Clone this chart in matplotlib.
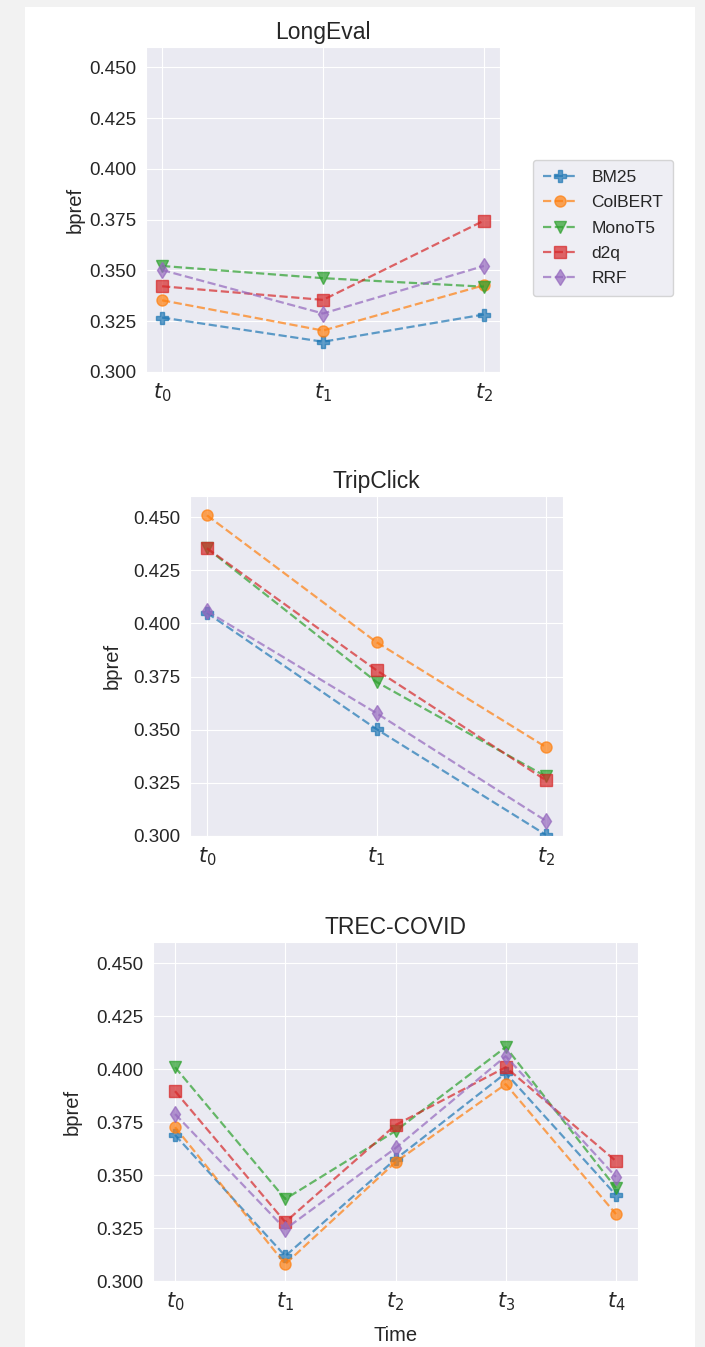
import matplotlib
matplotlib.use("Agg")
import matplotlib.pyplot as plt
import seaborn as sns
from matplotlib.patches import Rectangle

sns.set_style("darkgrid")
plt.rcParams['font.family'] = ['Liberation Sans', 'DejaVu Sans']

models = ["BM25", "ColBERT", "MonoT5", "d2q", "RRF"]
markers = ["P", "o", "v", "s", "d"]
colors = ["#1f77b4", "#ff7f0e", "#2ca02c", "#d62728", "#9467bd"]

longeval_labels = ["$t_0$", "$t_1$", "$t_2$"]
longeval = {
    "BM25":    [0.3268, 0.3149, 0.3283],
    "ColBERT": [0.3353, 0.3204, 0.3427],
    "MonoT5":  [0.3522, 0.3462, 0.3420],
    "d2q":     [0.3422, 0.3355, 0.3745],
    "RRF":     [0.3502, 0.3288, 0.3522],
}

tripclick_labels = ["$t_0$", "$t_1$", "$t_2$"]
tripclick = {
    "BM25":    [0.4050, 0.3503, 0.3005],
    "ColBERT": [0.4509, 0.3912, 0.3418],
    "MonoT5":  [0.4354, 0.3725, 0.3280],
    "d2q":     [0.4354, 0.3780, 0.3262],
    "RRF":     [0.4058, 0.3578, 0.3071],
}

covid_labels = ["$t_0$", "$t_1$", "$t_2$", "$t_3$", "$t_4$"]
covid = {
    "BM25":    [0.3689, 0.3118, 0.3575, 0.3981, 0.3406],
    "ColBERT": [0.3726, 0.3080, 0.3561, 0.3929, 0.3316],
    "MonoT5":  [0.4009, 0.3387, 0.3708, 0.4104, 0.3439],
    "d2q":     [0.3896, 0.3278, 0.3736, 0.4009, 0.3566],
    "RRF":     [0.3788, 0.3245, 0.3627, 0.4061, 0.3491],
}

W, H = 705, 1347
fig = plt.figure(figsize=(W / 100, H / 100), dpi=100, facecolor="#f2f2f2")
fig.patches.append(Rectangle((25 / W, 0), (695 - 25) / W, (H - 7) / H,
                             transform=fig.transFigure, facecolor="white",
                             edgecolor="none", zorder=-10))


def px_axes(left, top, right, bottom):
    return fig.add_axes([left / W, (H - bottom) / H, (right - left) / W, (bottom - top) / H])


def draw(ax, title, labels, data, ypad=4, xlabel=None):
    x = list(range(len(labels)))
    for m, mk, c in zip(models, markers, colors):
        ax.plot(x, data[m], linestyle="--", marker=mk, color=c, alpha=0.7,
                markersize=8, linewidth=1.6, label=m)
    ax.set_xticks(x)
    ax.set_xticklabels(labels, fontsize=15)
    ax.set_ylim(0.30, 0.46)
    ax.set_yticks([0.300, 0.325, 0.350, 0.375, 0.400, 0.425, 0.450])
    ax.set_yticklabels(["0.300", "0.325", "0.350", "0.375", "0.400", "0.425", "0.450"], fontsize=13.5)
    ax.set_ylabel("bpref", fontsize=14.5, labelpad=ypad)
    ax.set_title(title, fontsize=16.5)
    if xlabel:
        ax.set_xlabel(xlabel, fontsize=14.5, labelpad=9)


ax1 = px_axes(146, 47, 500, 372)
draw(ax1, "LongEval", longeval_labels, longeval, ypad=3.5)
ax1.legend(loc="center left", bbox_to_anchor=(1.093, 0.443), borderaxespad=0,
           fontsize=12.5, labelspacing=0.59, borderpad=0.57, handletextpad=0.8)

ax2 = px_axes(190, 496, 563, 836)
draw(ax2, "TripClick", tripclick_labels, tripclick, ypad=8.3)

ax3 = px_axes(153, 942, 638, 1281)
draw(ax3, "TREC-COVID", covid_labels, covid, ypad=10.5, xlabel="Time")

plt.savefig("out.png", dpi=100, facecolor=fig.get_facecolor())
